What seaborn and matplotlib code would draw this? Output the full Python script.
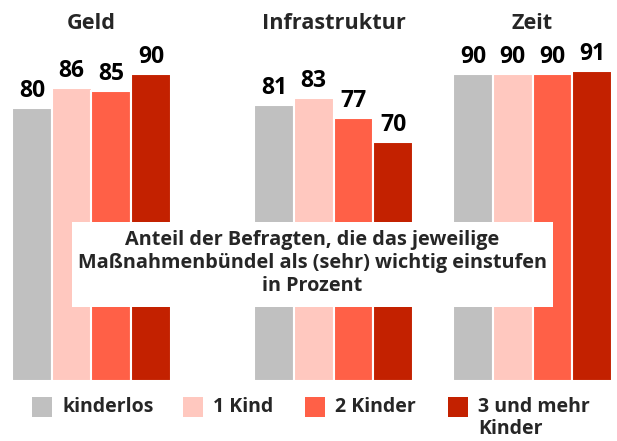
import pandas as pd
import numpy as np
import matplotlib.pyplot as plt
import seaborn as sns
from matplotlib.patches import Rectangle

# data
groups = ['Geld', 'Infrastruktur', 'Zeit']
levels = ['kinderlos', '1 Kind', '2 Kinder', '3 und mehr Kinder']
kinderlos = [80, 81, 90]
ein_kind = [86, 83, 90]
zwei_kinder = [85, 77, 90]
drei_plus = [90, 70, 91]
colors = ['#c0c0c0', '#ffc8bf', '#ff6047', '#c32100']

df = pd.DataFrame({
    'gruppe': groups * 4,
    'kinder': np.repeat(levels, 3),
    'anteil': kinderlos + ein_kind + zwei_kinder + drei_plus,
})

sns.set_theme(style='white')
plt.rcParams['font.family'] = ['Open Sans', 'DejaVu Sans']

W, H = 617, 441
fig = plt.figure(figsize=(W / 100, H / 100), dpi=100)

# one axes per group (groups are not evenly spaced in the original)
group_px = [(12, 171), (254, 413), (453, 612)]
for g, (x0, x1) in zip(groups, group_px):
    ax = fig.add_axes([x0 / W, 60 / H, (x1 - x0) / W, 381 / H])
    sub = df[df['gruppe'] == g]
    sns.barplot(data=sub, x='gruppe', y='anteil', hue='kinder', hue_order=levels,
                palette=colors, width=0.8, edgecolor='white', linewidth=1.5,
                saturation=1, legend=False, ax=ax)
    ax.set_xlim(-0.4, 0.4)
    ax.set_ylim(0, 111.7)
    ax.set_axis_off()
    for cont in ax.containers:
        ax.bar_label(cont, padding=3.5, fontsize=16.5, fontweight='bold', color='black')
    ax.text(0, 104.8, g, ha='center', va='center', fontsize=15.6, fontweight='bold',
            clip_on=False)

# explanation box
fig.patches.append(Rectangle((72 / W, 1 - 307 / H), 481 / W, 85 / H,
                             transform=fig.transFigure, facecolor='white',
                             edgecolor='none', zorder=5))
fig.text(312.5 / W, 1 - 263 / H,
         'Anteil der Befragten, die das jeweilige\nMaßnahmenbündel als (sehr) wichtig einstufen\nin Prozent',
         ha='center', va='center', fontsize=14.3, fontweight='bold', linespacing=1.18,
         zorder=6)

# legend
leg_sq = [32, 183, 305, 448]
leg_tx = [62, 213, 335, 478]
leg_labels = ['kinderlos', '1 Kind', '2 Kinder', '3 und mehr\nKinder']
for sq, tx, lab, c in zip(leg_sq, leg_tx, leg_labels, colors):
    fig.patches.append(Rectangle((sq / W, 1 - 417 / H), 20 / W, 20 / H,
                                 transform=fig.transFigure, facecolor=c, edgecolor='none'))
    fig.text(tx / W, 1 - 397 / H, lab, ha='left', va='top', fontsize=14,
             fontweight='bold', linespacing=1.1)

fig.savefig('out.png', dpi=100)
